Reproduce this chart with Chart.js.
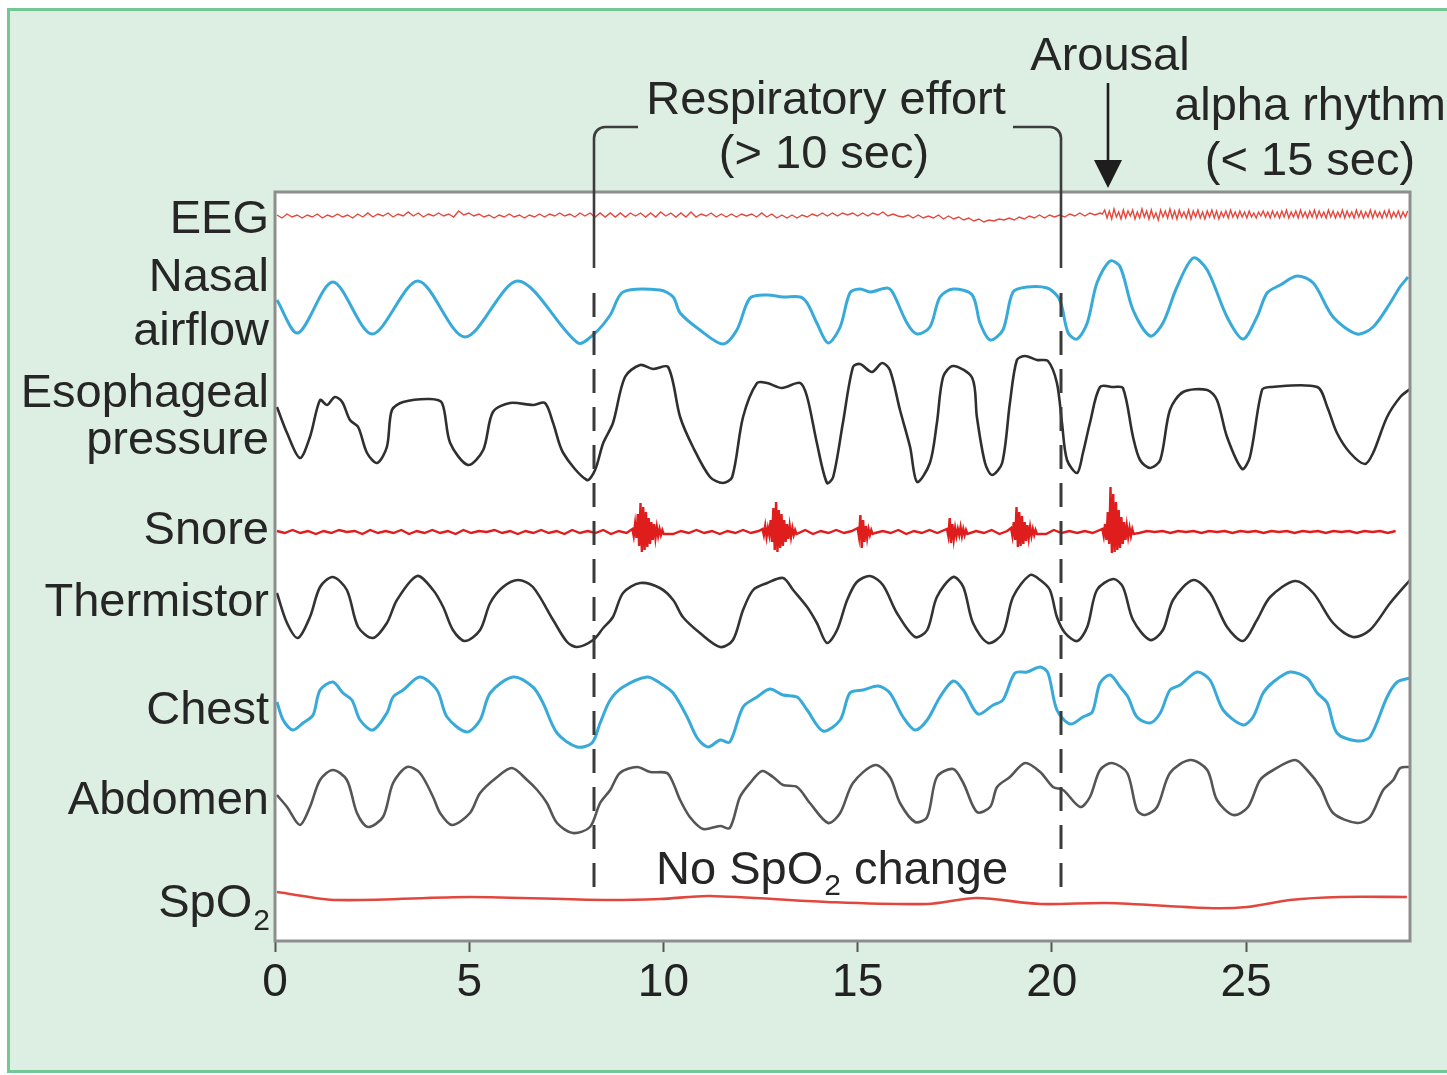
<!DOCTYPE html>
<html>
<head>
<meta charset="utf-8">
<script src="https://cdn.jsdelivr.net/npm/chart.js@4.4.1/dist/chart.umd.min.js"></script>
<style>
  html, body { margin: 0; padding: 0; background: #ffffff; }
  #wrap { width: 1447px; height: 1075px; position: relative; }
  canvas { display: block; }
</style>
</head>
<body>
<div id="wrap"><canvas id="c" width="1447" height="1075"></canvas></div>
<script>
// ---------------- DATA (time in s, values relative to each trace's baseline) ----------------
const tickValues = [0, 5, 10, 15, 20, 25];
const channelLabels = ["EEG", "Nasal airflow", "Esophageal pressure", "Snore", "Thermistor", "Chest", "Abdomen", "SpO2"];

const nasalT = [0.05,0.59,1.49,2.50,3.68,4.89,6.26,7.80,8.24,8.63,8.96,9.91,10.25,10.43,10.94,11.53,11.89,12.23,12.67,13.08,13.52,13.70,13.95,14.24,14.55,14.80,15.06,15.32,15.76,15.91,16.27,16.53,16.86,17.12,17.46,17.95,18.15,18.41,18.74,19.00,19.36,19.88,20.16,20.26,20.42,20.65,20.91,21.16,21.50,21.76,22.09,22.53,22.86,23.22,23.64,24.00,24.51,24.92,25.28,25.54,25.88,26.31,26.73,27.24,27.86,28.27,28.71,28.96,29.17];
const nasalV = [5,-28,23,-29,24,-32,24,-38,-28,-10,13,15,8,-8,-25,-39,-25,7,10,8,8,2,-18,-38,-22,12,16,13,17,12,-18,-29,-22,8,16,10,-18,-35,-25,13,18,17,8,-2,-28,-34,-18,22,44,38,-5,-31,-18,18,47,35,-12,-34,-12,12,20,29,22,-12,-29,-22,2,18,28];

const esoT = [0.05,0.31,0.64,0.90,1.16,1.34,1.54,1.73,1.93,2.14,2.37,2.63,2.88,3.01,3.30,3.99,4.30,4.51,4.97,5.36,5.61,6.05,6.64,6.95,7.16,7.42,8.03,8.24,8.45,8.70,9.01,9.40,9.73,10.12,10.43,10.76,11.20,11.53,11.77,12.05,12.41,12.67,13.05,13.52,13.70,13.95,14.21,14.37,14.62,14.88,15.06,15.37,15.63,15.83,16.09,16.35,16.53,16.86,17.04,17.20,17.46,17.95,18.07,18.28,18.46,18.72,18.92,19.10,19.31,19.62,19.90,20.13,20.26,20.39,20.65,20.80,20.98,21.24,21.58,21.83,22.09,22.27,22.53,22.79,23.04,23.38,24.00,24.25,24.51,24.90,25.10,25.41,25.62,26.83,27.09,27.34,27.68,28.06,28.27,28.63,28.97,29.22];
const esoV = [18,-8,-33,-12,25,20,28,23,5,-2,-28,-38,-22,15,23,26,22,-18,-40,-25,13,22,20,22,2,-28,-55,-45,-18,2,48,60,56,58,8,-22,-52,-58,-52,8,42,42,37,42,28,-18,-58,-52,2,58,61,53,62,55,15,-22,-57,-38,2,48,59,47,8,-38,-50,-38,22,65,69,65,64,42,2,-35,-48,-28,2,38,38,37,-12,-35,-43,-35,15,33,35,25,-12,-44,-32,35,38,38,18,-8,-28,-39,-28,8,28,36];

const thermT = [0.05,0.31,0.59,0.90,1.16,1.49,1.85,2.14,2.52,2.88,3.14,3.66,4.07,4.33,4.58,4.89,5.28,5.54,5.87,6.26,6.64,7.16,7.52,7.78,8.19,8.45,8.70,8.96,9.40,9.91,10.25,10.50,10.94,11.46,11.79,12.05,12.31,12.67,13.08,13.34,13.70,13.95,14.21,14.47,14.73,14.98,15.32,15.65,16.01,16.48,16.79,17.04,17.46,17.72,17.97,18.36,18.74,19.00,19.44,19.70,19.95,20.13,20.34,20.65,20.91,21.16,21.58,21.83,22.09,22.53,22.86,23.12,23.64,24.07,24.51,24.92,25.28,25.62,26.26,26.73,27.24,27.75,28.19,28.71,29.22];
const thermV = [17,-13,-28,-7,23,33,20,-17,-28,-13,10,34,20,3,-20,-31,-20,7,23,30,23,-10,-32,-37,-30,-18,-7,17,27,22,10,-7,-23,-37,-30,0,20,27,32,20,3,-13,-33,-20,10,28,34,25,-3,-27,-20,13,33,23,-13,-33,-23,13,35,30,20,-7,-23,-31,-17,20,31,23,-10,-30,-20,10,30,17,-17,-31,-10,13,29,17,-13,-27,-20,7,30];

const chestT = [0.05,0.21,0.46,0.72,0.98,1.16,1.49,1.75,1.98,2.19,2.52,2.88,3.04,3.30,3.73,4.17,4.43,4.94,5.28,5.54,6.13,6.64,6.90,7.26,7.78,8.16,8.37,8.63,8.96,9.58,9.91,10.25,10.61,10.87,11.15,11.46,11.71,12.05,12.41,12.74,13.08,13.44,13.70,14.11,14.55,14.80,15.14,15.53,15.83,16.17,16.48,16.79,17.12,17.46,17.72,18.10,18.49,18.74,19.05,19.36,19.70,19.90,20.13,20.47,20.80,21.04,21.24,21.50,21.76,21.96,22.19,22.53,22.79,23.04,23.30,23.74,24.07,24.41,24.92,25.18,25.44,25.70,26.13,26.57,26.83,27.09,27.34,27.86,28.19,28.63,28.89,29.22];
const chestV = [8,-10,-20,-13,-5,20,28,17,10,-10,-20,-3,13,20,33,20,-7,-22,-10,17,33,23,7,-23,-37,-33,-13,10,23,33,27,17,-7,-28,-37,-30,-32,3,13,21,15,13,0,-21,-10,17,20,24,17,-7,-20,-10,13,29,20,-4,5,10,37,38,43,37,0,-14,-7,-2,27,35,23,13,-7,-13,-3,20,25,38,30,0,-15,-7,17,28,38,32,17,7,-23,-31,-27,13,28,32];

const abdT = [0.05,0.31,0.64,0.90,1.16,1.49,1.85,2.11,2.39,2.78,3.04,3.40,3.73,4.07,4.25,4.56,5.02,5.28,5.72,6.10,6.49,6.75,7.00,7.26,7.67,8.11,8.37,8.63,8.88,9.32,9.66,10.09,10.25,10.43,10.68,11.02,11.46,11.71,11.97,12.23,12.54,12.82,13.08,13.44,13.77,14.24,14.55,14.88,15.45,15.83,16.09,16.48,16.79,17.04,17.46,17.72,18.07,18.41,18.59,18.92,19.31,19.70,20.03,20.29,20.73,20.98,21.24,21.55,21.94,22.19,22.40,22.71,23.04,23.56,24.00,24.25,24.67,25.05,25.36,25.70,26.26,26.57,26.91,27.24,27.86,28.19,28.53,28.79,28.97,29.22];
const abdV = [0,-12,-30,-12,15,25,15,-18,-32,-22,12,28,22,-2,-18,-30,-18,2,18,27,15,5,-8,-28,-38,-32,-8,5,22,28,23,22,12,-5,-22,-34,-31,-33,-2,12,24,18,10,8,-8,-28,-18,12,30,18,-8,-27,-22,18,26,12,-17,-12,8,18,32,23,8,5,-12,-2,25,32,22,-15,-20,-12,22,35,25,-5,-20,-12,15,25,35,25,8,-18,-28,-22,5,15,27,28];

const spo2T = [0.05,1.60,5.02,8.45,9.91,11.20,14.21,16.79,18.07,19.70,21.42,24.00,25.02,26.13,27.42,29.14];
const spo2V = [8,0,3,0,1,4,-2,-4,2,-4,-3,-8,-7,0,3,3];

// EEG: sleep part sampled every 0.13 s from 0.05 s, alpha part every 0.06 s from 21.3 s
const eegSleepV = [1,-2,2,-1,1,-2,1,-1,2,-2,1,-1,2,-1,1,-2,2,-1,3,-1,2,0,3,-1,2,0,4,0,3,-1,2,
  0,3,0,2,-1,5,1,3,0,2,-1,1,-2,1,-1,2,-1,1,-2,1,-1,2,-1,2,0,3,0,2,-1,3,0,
  3,-1,3,-1,3,-1,3,-1,3,0,3,-1,3,-1,4,0,3,-1,3,-1,4,-1,2,0,3,-1,2,-1,2,-1,2,
  0,2,-1,3,-1,2,-2,1,-2,1,-2,1,-1,2,0,3,0,3,0,3,1,3,0,3,0,3,1,4,0,2,0,
  -1,1,-2,1,-2,0,-2,1,-3,0,-3,-1,-4,-2,-5,-3,-6,-4,-5,-3,-4,-2,-4,-1,-3,0,-2,1,-2,1,-1,
  1,-1,2,0,3,0,3,1,3];
const eegAlphaV = [2,6,-2,5,-3,7,-1,4,-3,6,-2,5,0,6,-3,4,-2,7,-1,5,-3,6,-2,3,-4,6,-1,5,-2,7,
  -2,5,-3,6,-1,4,-2,6,-3,5,-1,6,-2,4,-3,5,-1,6,-2,5,-3,4,-1,5,-2,6,-1,4,-2,5,
  -1,4,-2,5,-1,3,-2,4,0,5,-1,4,-2,5,-1,4,-2,5,-1,6,-2,4,-1,5,-2,6,-1,4,-2,5,
  -1,6,-2,5,-1,4,-2,6,-1,5,-2,4,-1,6,-2,5,-1,4,-2,6,-1,5,-2,4,-1,6,-2,5,-1,4,
  -2,5,-1,6,-2,4,-1,5,-2,4,-1,5];

// Snore: background jitter every 0.2 s from 0.05 s, plus bursts sampled every 0.035 s
const snoreBaseV = [1,-1,2,-1,1,-2,1,-1,2,0,1,-2,2,-1,1,-1,2,-2,1,-1,
  2,-1,1,-2,2,-1,1,0,2,-1,1,-2,1,-1,2,-1,1,-2,2,-1,
  1,-1,2,-2,1,-1,2,0,1,-1,2,-2,1,-1,2,-1,1,-2,1,-1,
  2,-1,1,-2,2,-1,1,-1,2,-2,1,-1,2,-1,1,-2,2,-1,1,-1,
  2,-2,1,-1,2,-1,1,-2,2,-1,1,-1,2,-2,1,-1,2,-1,1,-2,
  2,-1,1,-1,1,-1,1,-1,1,0,1,-1,1,0,1,-1,1,0,1,-1,
  1,0,1,-1,1,0,1,-1,1,0,1,-1,1,0,1,-1,1,0,1,-1,
  1,0,1,-1,1];
const snoreBurstStart = [9.2, 12.55, 15.0, 17.3, 18.95, 21.3];
const snoreBurst1 = [3,-4,8,-6,18,-14,29,-20,25,-18,20,-15,14,-12,10,-8,8,-6,5,-4,3,-3,2,-2];
const snoreBurst2 = [3,-3,6,-5,4,-3,12,-10,24,-18,30,-20,22,-16,18,-14,12,-10,8,-7,6,-5,4,-3,2,-2];
const snoreBurst3 = [4,-5,17,-16,12,-10,6,-6,3,-3,2,-2];
const snoreBurst4 = [3,-4,14,-11,8,-7,4,-4,3,-3,5,-4,3,-3,2,-2];
const snoreBurst5 = [4,-4,10,-8,25,-15,20,-14,16,-12,10,-9,7,-6,5,-4,3,-3,2,-2];
const snoreBurst6 = [3,-4,8,-8,20,-12,45,-21,38,-20,30,-18,22,-16,15,-12,10,-8,6,-5,4,-4,3,-2];

// Event markers (s)
const effortStart = 8.21, effortEnd = 20.24, arousalTime = 21.45;

// ---------------- LAYOUT (baseline of each trace in chart units) ----------------
const BASE = { eeg: 725, nasal: 636, eso: 516, snore: 409, therm: 331, chest: 231, abd: 146, spo2: 41 };
const FONT = "'Liberation Sans', Arial, Helvetica, sans-serif";
const TXT = '#262626';

function pts(T, V, base) { return T.map((t, i) => ({ x: t, y: base + V[i] })); }
function grid(t0, dt, V, base) { return V.map((v, i) => ({ x: +(t0 + dt * i).toFixed(3), y: base + v })); }

const eegPts = grid(0.05, 0.13, eegSleepV, BASE.eeg).concat(grid(21.3, 0.06, eegAlphaV, BASE.eeg)).filter(p => p.x <= 29.22);

const bursts = [snoreBurst1, snoreBurst2, snoreBurst3, snoreBurst4, snoreBurst5, snoreBurst6];
const BDT = 0.035;
let snorePts = [];
snoreBaseV.forEach((v, i) => {
  const t = 0.05 + 0.2 * i;
  const inBurst = bursts.some((b, k) => t >= snoreBurstStart[k] - 0.06 && t <= snoreBurstStart[k] + BDT * b.length + 0.02);
  if (!inBurst) snorePts.push({ x: t, y: BASE.snore + v });
});
bursts.forEach((b, k) => b.forEach((v, i) => snorePts.push({ x: snoreBurstStart[k] + BDT * i, y: BASE.snore + v })));
snorePts.sort((a, b) => a.x - b.x);

const smooth = { tension: 0.3, pointRadius: 0, fill: false };
const datasets = [
  { label: 'EEG', data: eegPts, borderColor: '#e5473c', borderWidth: 1.4, tension: 0, pointRadius: 0 },
  { label: 'Nasal airflow', data: pts(nasalT, nasalV, BASE.nasal), borderColor: '#37aad9', borderWidth: 3, ...smooth },
  { label: 'Esophageal pressure', data: pts(esoT, esoV, BASE.eso), borderColor: '#2f2f2f', borderWidth: 2.6, ...smooth },
  { label: 'Snore', data: snorePts, borderColor: '#e01d1d', borderWidth: 2.4, tension: 0, pointRadius: 0 },
  { label: 'Thermistor', data: pts(thermT, thermV, BASE.therm), borderColor: '#333333', borderWidth: 2.6, ...smooth },
  { label: 'Chest', data: pts(chestT, chestV, BASE.chest), borderColor: '#37aad9', borderWidth: 3, ...smooth },
  { label: 'Abdomen', data: pts(abdT, abdV, BASE.abd), borderColor: '#555555', borderWidth: 2.6, ...smooth },
  { label: 'SpO2', data: pts(spo2T, spo2V, BASE.spo2), borderColor: '#e2473d', borderWidth: 2.6, ...smooth }
];

function text(ctx, s, x, y, size, align) {
  ctx.font = size + 'px ' + FONT;
  ctx.textAlign = align || 'left';
  ctx.textBaseline = 'alphabetic';
  ctx.fillText(s, x, y);
  return ctx.measureText(s).width;
}

const decor = {
  id: 'decor',
  beforeDraw(chart) {
    const { ctx, chartArea: a } = chart;
    ctx.save();
    ctx.fillStyle = '#ffffff';
    ctx.fillRect(0, 0, chart.width, chart.height);
    ctx.fillStyle = '#ddeee2';
    ctx.fillRect(7, 8, chart.width, 1065);
    ctx.strokeStyle = '#72c795';
    ctx.lineWidth = 3;
    ctx.strokeRect(8.5, 9.5, chart.width + 10, 1062);
    ctx.fillStyle = '#ffffff';
    ctx.fillRect(a.left, a.top, a.right - a.left, a.bottom - a.top);
    ctx.restore();
  },
  afterDraw(chart) {
    const { ctx, chartArea: a, scales } = chart;
    const xs = scales.x;
    ctx.save();
    // plot frame
    ctx.strokeStyle = '#8e8e8e';
    ctx.lineWidth = 3;
    ctx.strokeRect(a.left, a.top, a.right - a.left, a.bottom - a.top);

    // event lines
    const x1 = Math.round(xs.getPixelForValue(effortStart));
    const x2 = Math.round(xs.getPixelForValue(effortEnd));
    ctx.strokeStyle = '#3a3a3a';
    ctx.lineWidth = 3;
    ctx.setLineDash([24, 14]);
    ctx.beginPath();
    ctx.moveTo(x1, 293); ctx.lineTo(x1, 890);
    ctx.moveTo(x2, 293); ctx.lineTo(x2, 890);
    ctx.stroke();
    ctx.setLineDash([]);
    ctx.lineWidth = 2.6;
    ctx.strokeStyle = '#3d3d3d';
    ctx.beginPath();
    ctx.moveTo(x1, 268); ctx.lineTo(x1, 138);
    ctx.arcTo(x1, 127, x1 + 11, 127, 11);
    ctx.lineTo(638, 127);
    ctx.moveTo(1013, 127); ctx.lineTo(x2 - 11, 127);
    ctx.arcTo(x2, 127, x2, 138, 11);
    ctx.lineTo(x2, 268);
    ctx.stroke();

    // arousal arrow
    const xa = Math.round(xs.getPixelForValue(arousalTime));
    ctx.strokeStyle = '#1e1e1e';
    ctx.fillStyle = '#1e1e1e';
    ctx.lineWidth = 2.6;
    ctx.beginPath(); ctx.moveTo(xa, 83); ctx.lineTo(xa, 165); ctx.stroke();
    ctx.beginPath(); ctx.moveTo(xa - 14, 160); ctx.lineTo(xa + 14, 160); ctx.lineTo(xa, 188); ctx.closePath(); ctx.fill();

    // annotation texts
    ctx.fillStyle = TXT;
    text(ctx, 'Respiratory effort', 826, 114, 47, 'center');
    text(ctx, '(> 10 sec)', 824, 168, 47, 'center');
    text(ctx, 'Arousal', 1110, 70, 47, 'center');
    text(ctx, 'alpha rhythm', 1310, 120, 47, 'center');
    text(ctx, '(< 15 sec)', 1310, 175, 47, 'center');

    // No SpO2 change
    let x = 656;
    x += text(ctx, 'No SpO', x, 884, 47, 'left');
    x += text(ctx, '2', x + 1, 895, 30, 'left') + 1;
    text(ctx, ' change', x, 884, 47, 'left');

    // channel labels
    const R = 269;
    text(ctx, 'EEG', R, 233, 47, 'right');
    text(ctx, 'Nasal', R, 291, 47, 'right');
    text(ctx, 'airflow', R, 345, 47, 'right');
    text(ctx, 'Esophageal', R, 407, 47, 'right');
    text(ctx, 'pressure', R, 454, 47, 'right');
    text(ctx, 'Snore', R, 544, 47, 'right');
    text(ctx, 'Thermistor', R, 616, 47, 'right');
    text(ctx, 'Chest', R, 724, 47, 'right');
    text(ctx, 'Abdomen', R, 814, 47, 'right');
    const w2 = text(ctx, '2', R + 1, 930, 30, 'right');
    text(ctx, 'SpO', R - w2, 917, 47, 'right');
    ctx.restore();
  }
};

new Chart(document.getElementById('c'), {
  type: 'line',
  data: { datasets },
  options: {
    responsive: false,
    devicePixelRatio: 1,
    animation: false,
    events: [],
    layout: { padding: { left: 275, right: 37, top: 192, bottom: 0 } },
    plugins: { legend: { display: false }, tooltip: { enabled: false }, title: { display: false } },
    scales: {
      x: {
        type: 'linear',
        min: 0,
        max: 29.22,
        afterBuildTicks: (s) => { s.ticks = tickValues.map(v => ({ value: v })); },
        afterFit: (s) => { s.height = 134; },
        border: { display: false },
        grid: { display: true, drawOnChartArea: false, drawTicks: true, tickLength: 11, tickColor: '#555555', tickWidth: 2 },
        ticks: { color: '#222222', font: { family: FONT, size: 46 }, padding: 4, maxRotation: 0, autoSkip: false,
                 callback: (v) => String(v) }
      },
      y: { type: 'linear', min: 0, max: 749, display: false }
    }
  },
  plugins: [decor]
});
</script>
</body>
</html>
